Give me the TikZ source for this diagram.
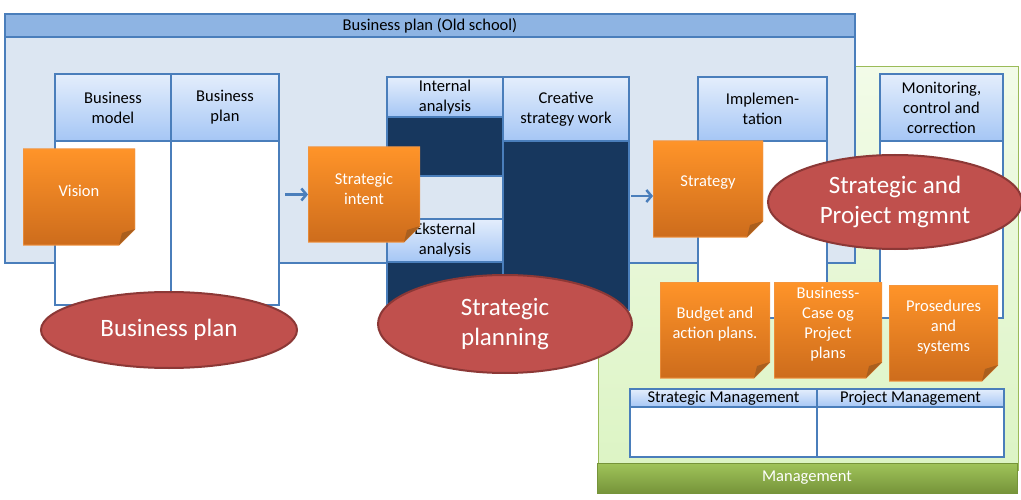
\documentclass[tikz,border=0pt]{standalone}
\usepackage{fontspec}
\setmainfont{Carlito}
\usetikzlibrary{arrows.meta,positioning,shapes.geometric}

\definecolor{bpline}{RGB}{74,126,187}
\definecolor{bpfill}{RGB}{220,230,242}
\definecolor{bptitle}{RGB}{142,180,227}
\definecolor{headtop}{RGB}{228,238,252}
\definecolor{headbot}{RGB}{165,198,245}
\definecolor{darkcol}{RGB}{23,55,94}
\definecolor{notetop}{RGB}{255,148,41}
\definecolor{notebot}{RGB}{205,108,28}
\definecolor{noteline}{RGB}{240,150,70}
\definecolor{notefold}{RGB}{170,95,30}
\definecolor{ellfill}{RGB}{192,80,77}
\definecolor{ellline}{RGB}{140,56,54}
\definecolor{greentop}{RGB}{242,251,232}
\definecolor{greenbot}{RGB}{220,244,196}
\definecolor{greenline}{RGB}{155,187,89}
\definecolor{mgtop}{RGB}{160,196,90}
\definecolor{mgbot}{RGB}{118,148,58}

\begin{document}
\begin{tikzpicture}[x=1pt, y=-1pt,
    txt/.style={font=\fontsize{16.5}{20}\selectfont},
    frame/.style={draw=bpline, line width=1.5pt, inner sep=0pt, outer sep=0pt, anchor=north west},
    head/.style={frame, top color=headtop, bottom color=headbot, align=center, txt},
    colbody/.style={frame, fill=white},
    darkbody/.style={frame, fill=darkcol},
    note/.style={anchor=north west, inner sep=0pt, outer sep=0pt,
        path picture={
            \shadedraw[top color=notetop, bottom color=notebot, draw=noteline, line width=1pt]
                (path picture bounding box.north west) -- (path picture bounding box.north east)
                -- ([yshift=16pt]path picture bounding box.south east)
                -- ([xshift=-16pt]path picture bounding box.south east)
                -- (path picture bounding box.south west) -- cycle;
            \fill[notefold] ([yshift=16pt]path picture bounding box.south east)
                -- ([xshift=-16pt]path picture bounding box.south east)
                -- ([xshift=-13pt, yshift=12pt]path picture bounding box.south east) -- cycle;
        }},
    notetext/.style={txt, text=white, align=center, inner sep=0pt},
    bubble/.style={ellipse, draw=ellline, line width=2pt, fill=ellfill, text=white, align=center,
        inner sep=0pt, font=\fontsize{25}{30}\selectfont},
    flow/.style={draw=bpline, line width=2.5pt, -{Straight Barb[length=5pt, width=12pt]}}
]
\useasboundingbox (0,0) rectangle (1021,500);

% management area (behind)
\node[frame, draw=greenline, line width=1pt, top color=greentop, bottom color=greenbot,
    minimum width=420pt, minimum height=403pt] (mgmtarea) at (598,67) {};

% old school business plan
\node[frame, fill=bptitle, txt, minimum width=850pt, minimum height=23pt] (oldtitle) at (5,14) {Business plan (Old school)};
\node[frame, fill=bpfill, minimum width=850pt, minimum height=226pt] (oldbox) at (5,37) {};

% business plan columns
\node[head, minimum width=116pt, minimum height=67pt] (bmodel) at (55,74) {Business\\model};
\node[head, minimum width=108pt, minimum height=67pt, right=0pt of bmodel] (bplan) {Business\\plan};
\node[colbody, minimum width=116pt, minimum height=164pt, below=0pt of bmodel] (bmodelcol) {};
\node[colbody, minimum width=108pt, minimum height=164pt, below=0pt of bplan] (bplancol) {};

% strategic planning columns
\node[head, minimum width=116pt, minimum height=40pt] (intan) at (387,77) {Internal\\analysis};
\node[darkbody, minimum width=116pt, minimum height=59pt, below=0pt of intan] (intandark) {};
\node[head, minimum width=116pt, minimum height=43pt] (ekan) at (387,219) {Eksternal\\analysis};
\node[darkbody, minimum width=116pt, minimum height=48pt, below=0pt of ekan] (ekandark) {};
\node[head, minimum width=126pt, minimum height=64pt] (creative) at (503,77) {Creative\\strategy work};
\node[darkbody, minimum width=126pt, minimum height=169pt, below=0pt of creative] (creativedark) {};

% implementation and monitoring columns
\node[head, minimum width=129pt, minimum height=64pt] (impl) at (698,77) {Implemen-\\tation};
\node[colbody, minimum width=129pt, minimum height=177pt, below=0pt of impl] (implcol) {};
\node[head, minimum width=123pt, minimum height=67pt] (monitor) at (880,74) {Monitoring,\\control and\\correction};
\node[colbody, minimum width=123pt, minimum height=177pt, below=0pt of monitor] (monitorcol) {};

% sticky notes
\node[note, minimum width=112pt, minimum height=96pt] (vision) at (23,149) {};
\node[notetext] (visiontxt) at ([yshift=6pt]vision.center) {Vision};
\node[note, minimum width=112pt, minimum height=95pt] (intent) at (308,147) {};
\node[notetext] (intenttxt) at ([yshift=6pt]intent.center) {Strategic\\intent};
\node[note, minimum width=110pt, minimum height=96pt] (strategy) at (653,141) {};
\node[notetext] (strategytxt) at ([yshift=6pt]strategy.center) {Strategy};
\node[note, minimum width=110pt, minimum height=96pt] (budget) at (660,282) {};
\node[notetext] (budgettxt) at ([yshift=6pt]budget.center) {Budget and\\action plans.};
\node[note, minimum width=108pt, minimum height=96pt] (bcase) at (774,282) {};
\node[notetext] (bcasetxt) at ([yshift=6pt]bcase.center) {Business-\\Case og\\Project\\plans};
\node[note, minimum width=109pt, minimum height=96pt] (prosed) at (889,285) {};
\node[notetext] (prosedtxt) at ([yshift=6pt]prosed.center) {Prosedures\\and\\systems};

% arrows
\draw[flow] (intent.west) ++(-23,0) -- (intent.west);
\draw[flow] ([yshift=-7pt]strategy.west) ++(-22,0) -- ([yshift=-7pt]strategy.west);

% management tables
\node[head, minimum width=187pt, minimum height=18pt] (smhead) at (630,389) {Strategic Management};
\node[head, minimum width=187pt, minimum height=18pt, right=0pt of smhead] (pmhead) {Project Management};
\node[colbody, minimum width=187pt, minimum height=50pt, below=0pt of smhead] (smcol) {};
\node[colbody, minimum width=187pt, minimum height=50pt, below=0pt of pmhead] (pmcol) {};
\node[frame, draw=mgbot, line width=0.8pt, top color=mgtop, bottom color=mgbot, text=white, txt,
    minimum width=420pt, minimum height=30pt] (mgmtbar) at (597,463) {Management};

% phase bubbles
\node[bubble, minimum width=256pt, minimum height=76pt] (bpbubble) at (169,330) {Business plan};
\node[bubble, minimum width=254pt, minimum height=98pt] (spbubble) at (505,324) {Strategic\\planning};
\node[bubble, minimum width=254pt, minimum height=94pt] (pmbubble) at (895,202) {Strategic and\\Project mgmnt};
\end{tikzpicture}
\end{document}
